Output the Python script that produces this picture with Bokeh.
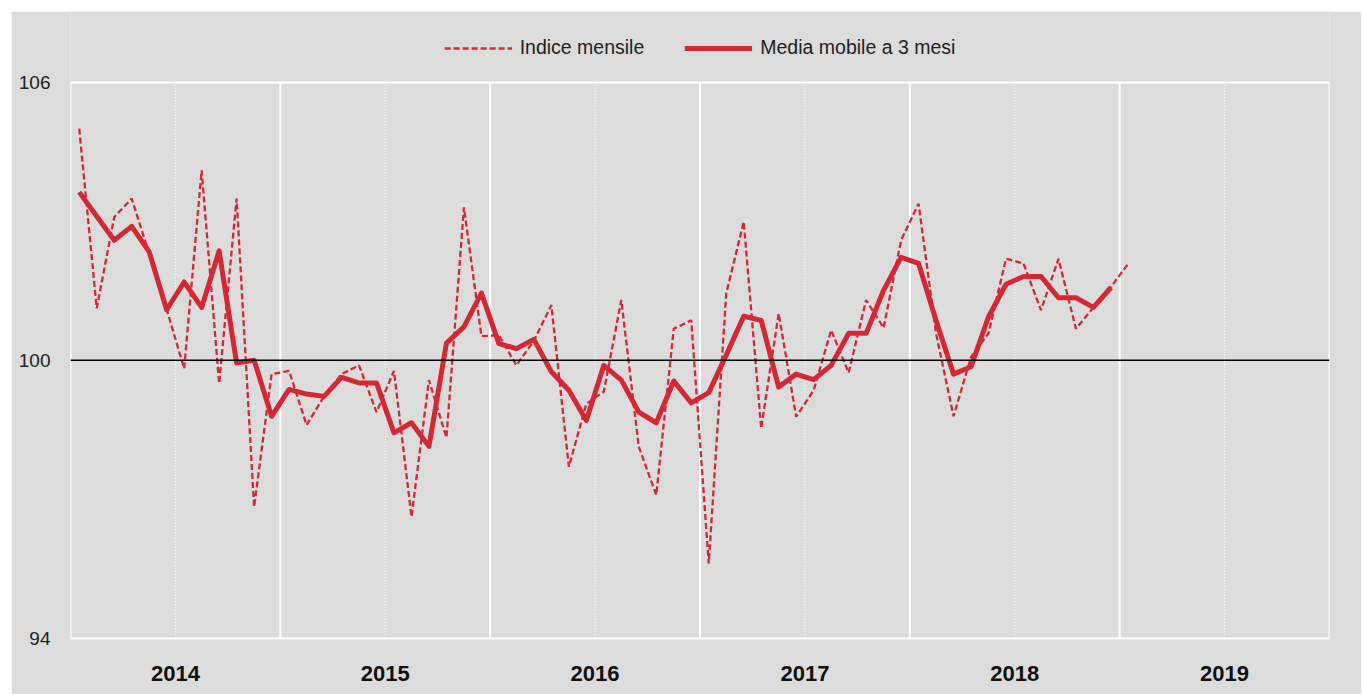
from bokeh.plotting import figure
from bokeh.models import FixedTicker, Span, Legend, LegendItem
from bokeh.embed import file_html
from bokeh.resources import INLINE

# Monthly index (Jan 2014 = month 0) and 3-month moving average
indice_mensile = [105.0, 101.12, 103.09, 103.49, 102.3, 101.1, 99.82, 104.10, 99.50, 103.49,
                  96.83, 99.70, 99.77, 98.60, 99.22, 99.70, 99.89, 98.88, 99.77, 96.62,
                  99.57, 98.33, 103.30, 100.52, 100.54, 99.89, 100.42, 101.19, 97.70, 99.06,
                  99.32, 101.30, 98.13, 97.09, 100.68, 100.86, 95.61, 101.44, 102.99, 98.53,
                  101.01, 98.78, 99.35, 100.65, 99.73, 101.30, 100.70, 102.59, 103.38, 100.58,
                  98.79, 100.07, 100.58, 102.19, 102.09, 101.08, 102.19, 100.68, 101.14, 101.58,
                  102.09]
media_mobile = [103.63, 103.11, 102.59, 102.89, 102.34, 101.09, 101.69, 101.14, 102.36, 99.94,
                100.0, 98.79, 99.37, 99.27, 99.22, 99.63, 99.51, 99.51, 98.43, 98.65,
                98.14, 100.37, 100.72, 101.45, 100.36, 100.25, 100.45, 99.75, 99.35, 98.70,
                99.89, 99.57, 98.88, 98.65, 99.55, 99.08, 99.30, 100.11, 100.95, 100.86,
                99.42, 99.70, 99.58, 99.89, 100.58, 100.58, 101.51, 102.22, 102.09, 100.86,
                99.70, 99.86, 100.94, 101.64, 101.81, 101.81, 101.35, 101.35, 101.14, 101.57]
years = ["2014", "2015", "2016", "2017", "2018", "2019"]
y_ticks = [94, 100, 106]
baseline = 100

months_idx = list(range(len(indice_mensile)))
months_ma = list(range(len(media_mobile)))

FONT = "Liberation Sans"
RED = "#d52832"
BG = "#dcdcdc"
HEADROOM = 1.53   # space above the top tick reserved for the legend
FOOTROOM = 0.03   # keeps the bottom border line fully visible

y_lo, y_hi = min(y_ticks), max(y_ticks)
n_months = len(years) * 12

p = figure(frame_width=1259, frame_height=628,
           x_range=(-0.5, n_months - 0.5), y_range=(y_lo - FOOTROOM, y_hi + HEADROOM),
           output_backend="svg", toolbar_location=None, margin=(11, 0, 0, 11),
           min_border_left=59, min_border_right=32, min_border_top=0, min_border_bottom=55)
p.background_fill_color = BG
p.border_fill_color = BG
p.outline_line_color = None

# grid / frame lines
p.xgrid.visible = False
p.ygrid.ticker = FixedTicker(ticks=[y_lo, y_hi])
p.ygrid.grid_line_color = "white"
p.ygrid.grid_line_width = 2

year_bounds = [12 * i - 0.5 for i in range(len(years) + 1)]
mid_years = [12 * i + 5.5 for i in range(len(years))]
p.segment(x0=year_bounds, x1=year_bounds, y0=[y_lo] * len(year_bounds), y1=[y_hi] * len(year_bounds),
          line_color="white", line_width=2)
p.segment(x0=mid_years, x1=mid_years, y0=[y_lo] * len(mid_years), y1=[y_hi] * len(mid_years),
          line_color="white", line_width=1, line_dash="1 2", line_alpha=0.9)
p.add_layout(Span(location=baseline, dimension="width", line_color="black", line_width=1.3))

r1 = p.line(months_idx, indice_mensile, line_color=RED, line_width=2.3, line_dash="6 3")
r2 = p.line(months_ma, media_mobile, line_color=RED, line_width=5, line_join="round")

# axes
p.xaxis.ticker = FixedTicker(ticks=mid_years)
p.xaxis.major_label_overrides = {m: y for m, y in zip(mid_years, years)}
p.xaxis.axis_line_color = None
p.xaxis.major_tick_line_color = None
p.xaxis.minor_tick_line_color = None
p.xaxis.major_label_text_font = FONT
p.xaxis.major_label_text_font_style = "bold"
p.xaxis.major_label_text_font_size = "22px"
p.xaxis.major_label_text_color = "#111111"
p.xaxis.major_label_standoff = 20

p.yaxis.ticker = FixedTicker(ticks=y_ticks)
p.yaxis.axis_line_color = None
p.yaxis.major_tick_line_color = None
p.yaxis.minor_tick_line_color = None
p.yaxis.major_label_text_font = FONT
p.yaxis.major_label_text_font_size = "19px"
p.yaxis.major_label_text_color = "#222222"
p.yaxis.major_label_standoff = 14

legend = Legend(items=[LegendItem(label="Indice mensile", renderers=[r1]),
                       LegendItem(label="Media mobile a 3 mesi", renderers=[r2])],
                orientation="horizontal", location="top_center",
                label_text_font=FONT, label_text_font_size="19.5px", label_text_color="#222222",
                glyph_width=68, label_standoff=8, spacing=40,
                background_fill_alpha=0, border_line_color=None, margin=25, padding=4)
p.add_layout(legend, "center")

open("out.html", "w").write(file_html(p, INLINE))
